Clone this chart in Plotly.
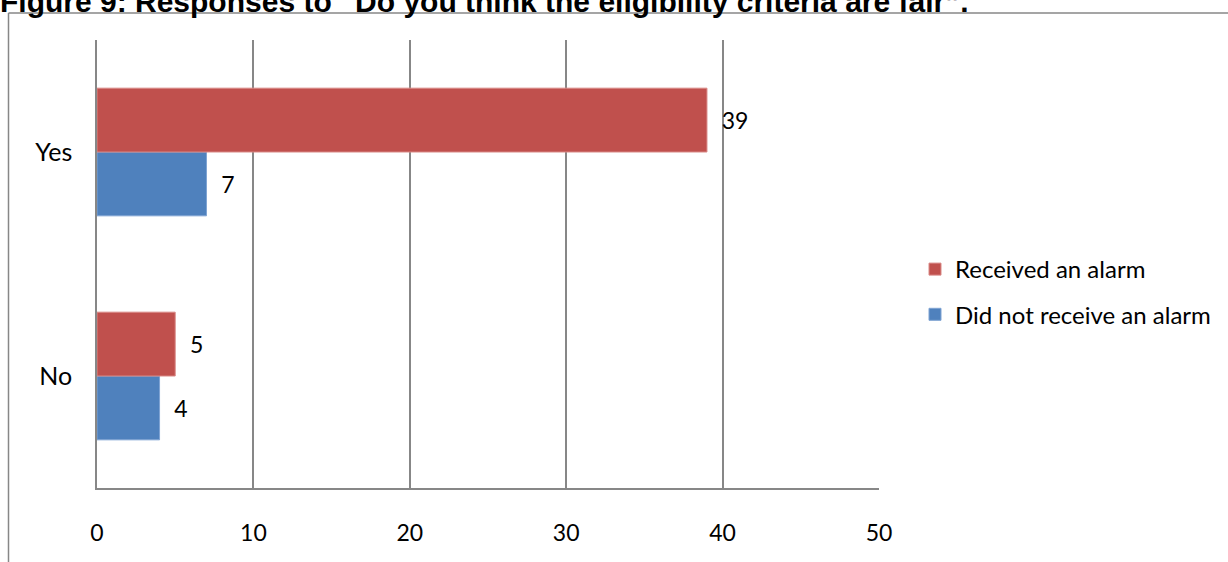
import plotly.graph_objects as go

# Survey answers and respondent counts per group
answers = ["No", "Yes"]
received_alarm = [5, 39]
no_alarm = [4, 7]
x_ticks = [0, 10, 20, 30, 40, 50]

title_text = "Figure 9: Responses to \u201cDo you think the eligibility criteria are fair\u201d."

W, H = 1228, 562
L, R, T, B = 97, 349, 40, 74
plot_w = W - L - R
plot_h = H - T - B


def px_x(px):
    return (px - L) / plot_w


def px_y(py):
    return (H - B - py) / plot_h


FONT = "Lato"
GRID = "#878787"
LABEL_SIZE = 23

fig = go.Figure()
fig.add_trace(go.Bar(
    y=answers, x=no_alarm, orientation="h",
    name="Did not receive an alarm", legendgroup="b", legendrank=2,
    marker=dict(color="#4F81BD", line=dict(color="#7FA3D3", width=1)),
    text=no_alarm, texttemplate="\u00a0\u00a0%{x}",
    textposition="outside", cliponaxis=False,
    textfont=dict(family=FONT, size=LABEL_SIZE, color="#000000"),
))
fig.add_trace(go.Bar(
    y=answers, x=received_alarm, orientation="h",
    name="Received an alarm", legendgroup="a", legendrank=1,
    marker=dict(color="#C0504D", line=dict(color="#D98986", width=1)),
    text=received_alarm, texttemplate="\u00a0\u00a0%{x}",
    textposition="outside", cliponaxis=False,
    textfont=dict(family=FONT, size=LABEL_SIZE, color="#000000"),
))

fig.update_layout(
    width=W, height=H,
    margin=dict(l=L, r=R, t=T, b=B, autoexpand=False),
    paper_bgcolor="white", plot_bgcolor="white",
    barmode="group", bargap=0.43, bargroupgap=0,
    font=dict(family=FONT, size=21, color="#000000"),
    showlegend=True,
    legend=dict(
        x=px_x(915), y=px_y(247), xanchor="left", yanchor="top",
        traceorder="grouped", tracegroupgap=11,
        font=dict(family=FONT, size=24, color="#000000"),
        bgcolor="rgba(0,0,0,0)", itemwidth=30,
    ),
    xaxis=dict(
        range=[0, 50], tickvals=x_ticks, showgrid=True,
        gridcolor=GRID, gridwidth=1.5, zeroline=False,
        showline=True, linecolor=GRID, linewidth=1.5,
        ticks="", ticklabelstandoff=24,
        tickfont=dict(family=FONT, size=LABEL_SIZE),
        fixedrange=True,
    ),
    yaxis=dict(
        categoryorder="array", categoryarray=answers,
        showgrid=False, zeroline=False,
        showline=True, linecolor=GRID, linewidth=1.5,
        ticks="", ticklabelstandoff=18,
        tickfont=dict(family=FONT, size=25),
        fixedrange=True,
    ),
    shapes=[
        # outer frame of the figure box
        dict(type="line", xref="paper", yref="paper",
             x0=px_x(8.5), x1=px_x(W + 5), y0=px_y(13), y1=px_y(13),
             line=dict(color=GRID, width=1.5)),
        dict(type="line", xref="paper", yref="paper",
             x0=px_x(8.5), x1=px_x(8.5), y0=px_y(13), y1=px_y(H + 5),
             line=dict(color=GRID, width=1.5)),
    ],
    annotations=[
        dict(text="<b>" + title_text + "</b>", xref="paper", yref="paper",
             x=px_x(-2), y=px_y(20.5), xanchor="left", yanchor="bottom",
             showarrow=False,
             font=dict(family="Liberation Sans", size=30, color="#000000")),
    ],
)

fig.write_html("out.html")
